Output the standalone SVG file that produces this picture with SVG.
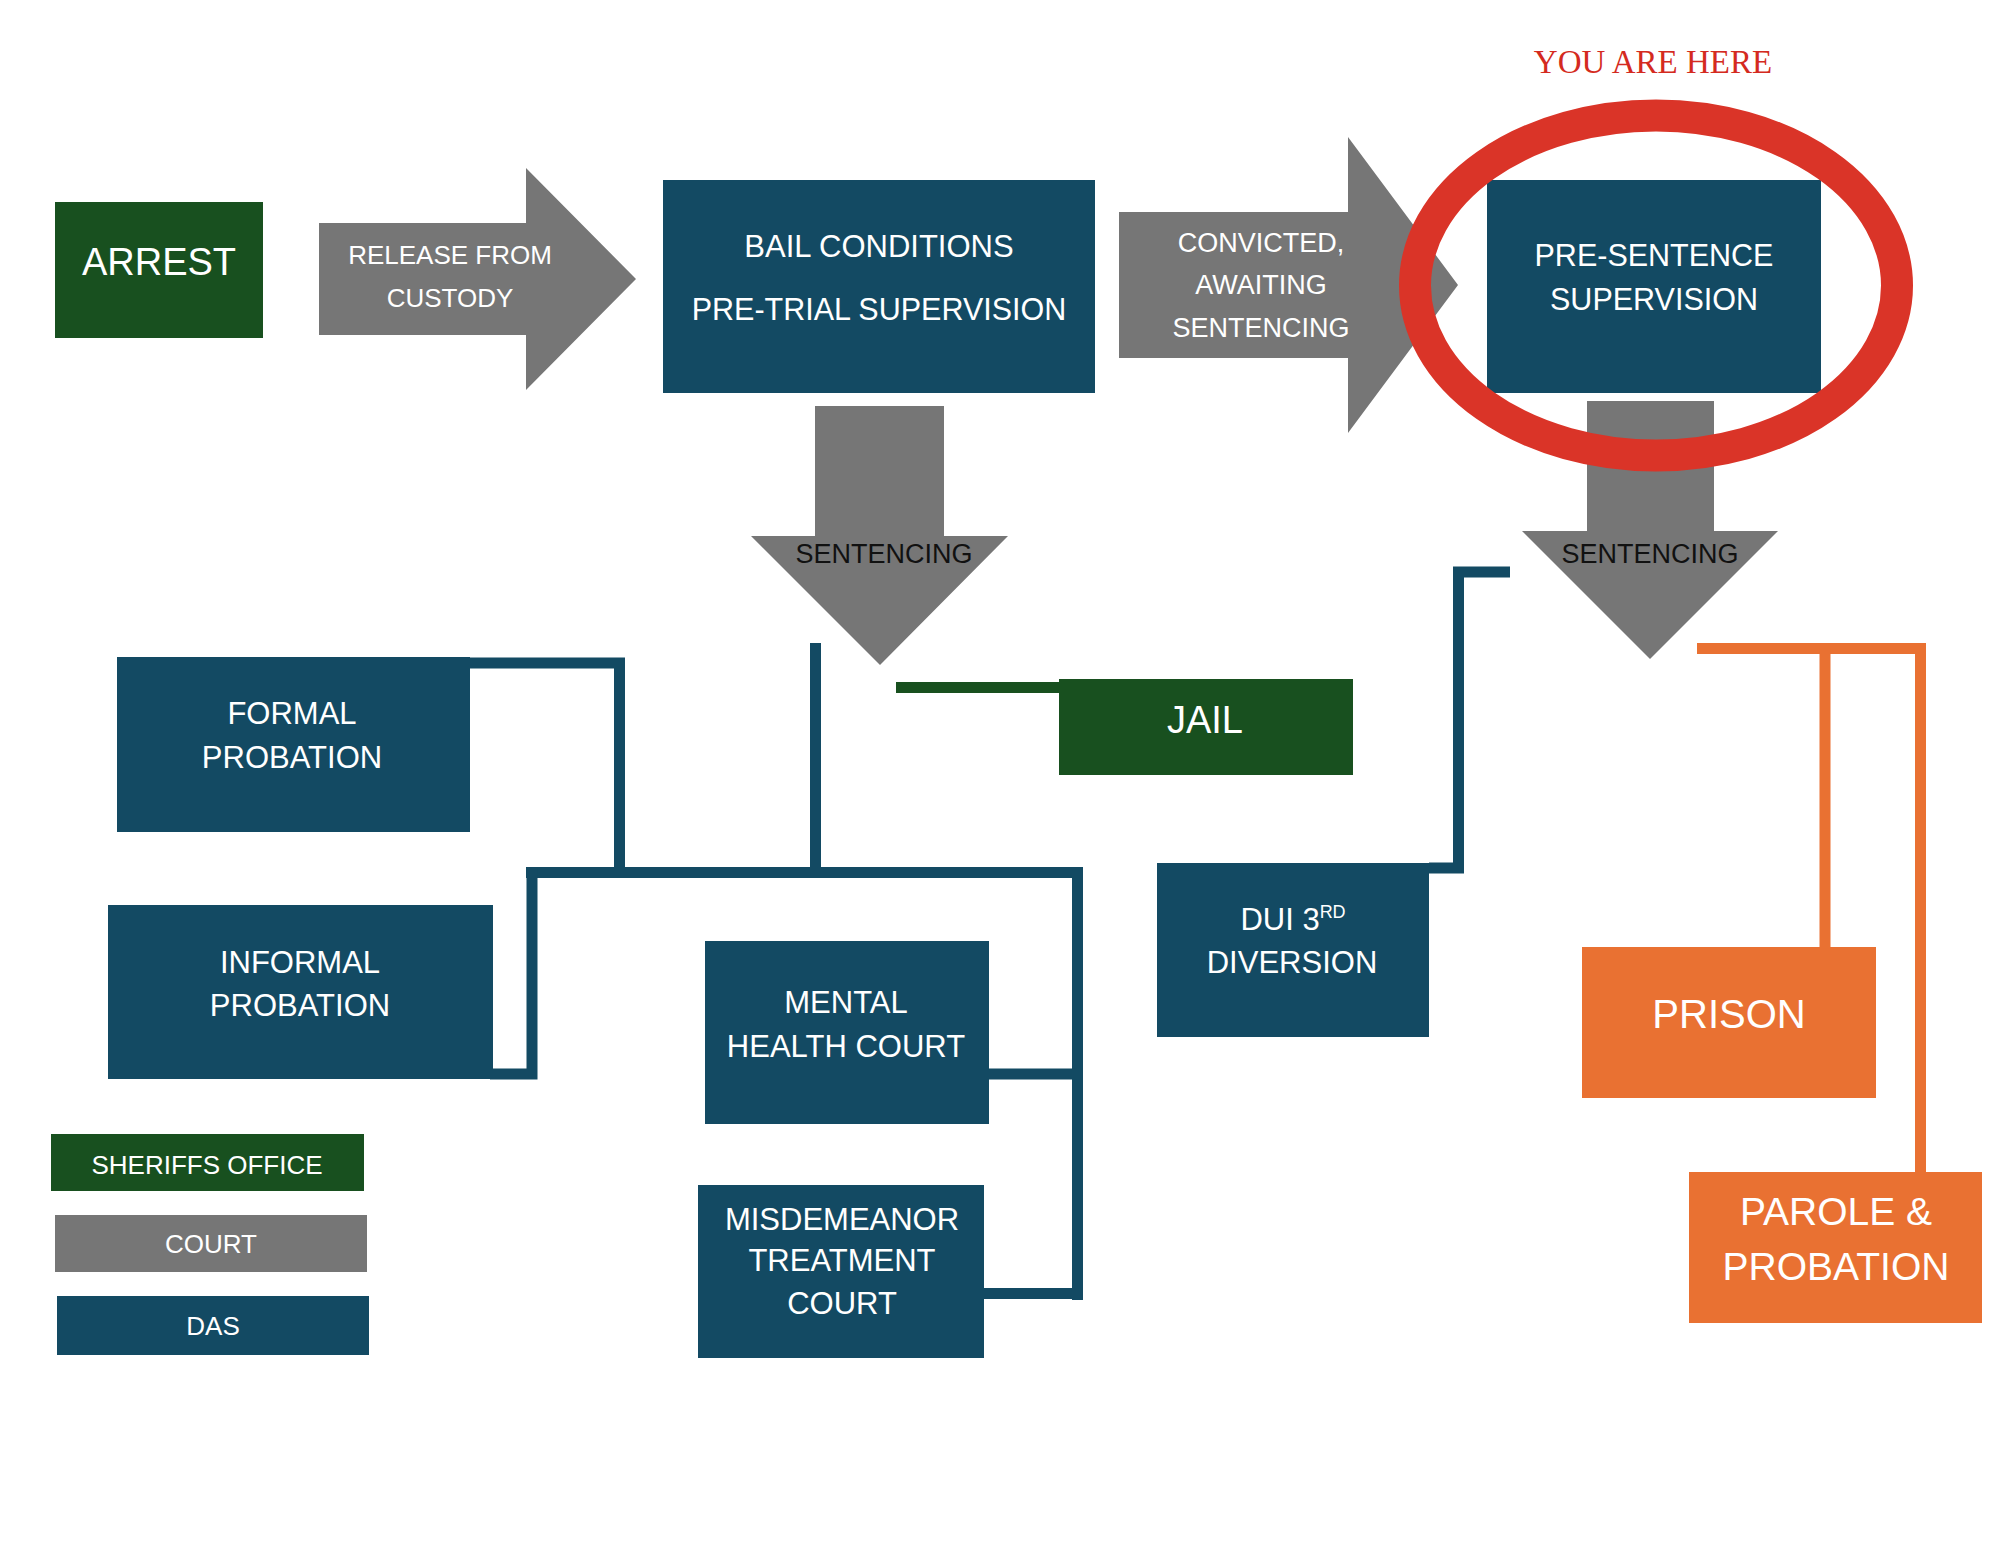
<svg xmlns="http://www.w3.org/2000/svg" width="2000" height="1545" viewBox="0 0 2000 1545">
<style>
.blue{fill:#134a63}
.green{fill:#18501f}
.gray{fill:#767676}
.orange{fill:#e97132}
.t{font-family:"Liberation Sans",Arial,sans-serif;fill:#ffffff;text-anchor:middle}
.k{font-family:"Liberation Sans",Arial,sans-serif;fill:#111111;text-anchor:middle;font-size:27px}
.lb{fill:none;stroke:#134a63;stroke-width:11;stroke-linejoin:miter}
.lg{fill:none;stroke:#18501f;stroke-width:11}
.lo{fill:none;stroke:#e97132;stroke-width:11;stroke-linejoin:miter}
</style>
<rect x="0" y="0" width="2000" height="1545" fill="#ffffff"/>

<g id="connectors">
  <path class="lb" d="M470 663 H619.5 V872"/>
  <path class="lb" d="M526 872.5 H1083"/>
  <path class="lb" d="M815.5 643 V872"/>
  <path class="lb" d="M490 1074 H532 V867"/>
  <path class="lb" d="M1077.5 867 V1300"/>
  <path class="lb" d="M989 1074 H1077"/>
  <path class="lb" d="M984 1293.5 H1077"/>
  <path class="lb" d="M1429 868 H1458.5 V572 H1510"/>
  <path class="lg" d="M896 687.5 H1060"/>
  <path class="lo" d="M1697 648.5 H1920.5 V1172"/>
  <path class="lo" d="M1825 648 V947"/>
</g>

<g id="arrest">
  <rect class="green" x="55" y="202" width="208" height="136"/>
  <text class="t" x="159" y="275" font-size="38">ARREST</text>
</g>

<g id="release-from-custody">
  <polygon class="gray" points="319,223 526,223 526,168 636,279 526,390 526,335 319,335"/>
  <text class="t" x="450" y="264" font-size="26">RELEASE FROM</text>
  <text class="t" x="450" y="307" font-size="26">CUSTODY</text>
</g>

<g id="bail-conditions">
  <rect class="blue" x="663" y="180" width="432" height="213"/>
  <text class="t" x="879" y="257" font-size="31">BAIL CONDITIONS</text>
  <text class="t" x="879" y="320" font-size="30.5">PRE-TRIAL SUPERVISION</text>
</g>

<g id="convicted-awaiting-sentencing">
  <polygon class="gray" points="1119,212 1348,212 1348,137 1458,285 1348,433 1348,358 1119,358"/>
  <text class="t" x="1261" y="252" font-size="27">CONVICTED,</text>
  <text class="t" x="1261" y="294" font-size="27">AWAITING</text>
  <text class="t" x="1261" y="337" font-size="27">SENTENCING</text>
</g>

<g id="pre-sentence-supervision">
  <rect class="blue" x="1487" y="180" width="334" height="213"/>
  <text class="t" x="1654" y="266" font-size="30.5">PRE-SENTENCE</text>
  <text class="t" x="1654" y="310" font-size="30.5">SUPERVISION</text>
</g>

<g id="sentencing-left">
  <polygon class="gray" points="815,406 944,406 944,536 1008,536 880,665 751,536 815,536"/>
  <text class="k" x="884" y="563">SENTENCING</text>
</g>

<g id="sentencing-right">
  <polygon class="gray" points="1587,401 1714,401 1714,531 1778,531 1650,659 1522,531 1587,531"/>
  <text class="k" x="1650" y="563">SENTENCING</text>
</g>

<g id="you-are-here">
  <ellipse cx="1656" cy="285.5" rx="241" ry="170" fill="none" stroke="#da3428" stroke-width="32"/>
  <text x="1653" y="73" font-family="'Liberation Serif','Times New Roman',serif" font-size="33" fill="#d42a20" text-anchor="middle">YOU ARE HERE</text>
</g>

<g id="formal-probation">
  <rect class="blue" x="117" y="657" width="353" height="175"/>
  <text class="t" x="292" y="724" font-size="31">FORMAL</text>
  <text class="t" x="292" y="768" font-size="31">PROBATION</text>
</g>

<g id="informal-probation">
  <rect class="blue" x="108" y="905" width="385" height="174"/>
  <text class="t" x="300" y="973" font-size="31">INFORMAL</text>
  <text class="t" x="300" y="1016" font-size="31">PROBATION</text>
</g>

<g id="jail">
  <rect class="green" x="1059" y="679" width="294" height="96"/>
  <text class="t" x="1205" y="733" font-size="38">JAIL</text>
</g>

<g id="mental-health-court">
  <rect class="blue" x="705" y="941" width="284" height="183"/>
  <text class="t" x="846" y="1013" font-size="31">MENTAL</text>
  <text class="t" x="846" y="1057" font-size="31">HEALTH COURT</text>
</g>

<g id="misdemeanor-treatment-court">
  <rect class="blue" x="698" y="1185" width="286" height="173"/>
  <text class="t" x="842" y="1230" font-size="31">MISDEMEANOR</text>
  <text class="t" x="842" y="1271" font-size="31">TREATMENT</text>
  <text class="t" x="842" y="1314" font-size="31">COURT</text>
</g>

<g id="dui-3rd-diversion">
  <rect class="blue" x="1157" y="863" width="272" height="174"/>
  <text class="t" x="1293" y="930" font-size="31">DUI 3<tspan font-size="18" dy="-12">RD</tspan></text>
  <text class="t" x="1292" y="973" font-size="31">DIVERSION</text>
</g>

<g id="prison">
  <rect class="orange" x="1582" y="947" width="294" height="151"/>
  <text class="t" x="1729" y="1028" font-size="40">PRISON</text>
</g>

<g id="parole-probation">
  <rect class="orange" x="1689" y="1172" width="293" height="151"/>
  <text class="t" x="1836" y="1225" font-size="39">PAROLE &amp;</text>
  <text class="t" x="1836" y="1280" font-size="39">PROBATION</text>
</g>

<g id="legend-sheriffs-office">
  <rect class="green" x="51" y="1134" width="313" height="57"/>
  <text class="t" x="207" y="1174" font-size="26">SHERIFFS OFFICE</text>
</g>
<g id="legend-court">
  <rect class="gray" x="55" y="1215" width="312" height="57"/>
  <text class="t" x="211" y="1253" font-size="26">COURT</text>
</g>
<g id="legend-das">
  <rect class="blue" x="57" y="1296" width="312" height="59"/>
  <text class="t" x="213" y="1335" font-size="26">DAS</text>
</g>
</svg>
